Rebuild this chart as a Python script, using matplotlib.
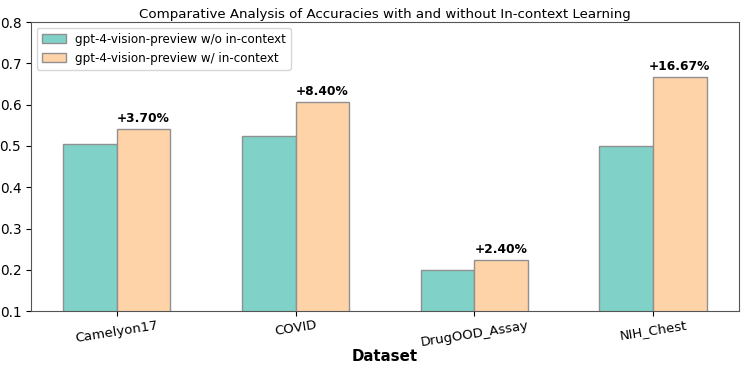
import numpy as np
import matplotlib
matplotlib.use('Agg')
import matplotlib.pyplot as plt

datasets = ['Camelyon17', 'COVID', 'DrugOOD_Assay', 'NIH_Chest']
acc_without = [0.504, 0.523, 0.200, 0.500]
acc_with = [0.541, 0.607, 0.224, 0.6667]
gains = ['+3.70%', '+8.40%', '+2.40%', '+16.67%']


def main():
    x = np.arange(len(datasets))
    width = 0.3

    fig, ax = plt.subplots(figsize=(7.47, 3.74), dpi=100)
    ax.bar(x - width / 2, acc_without, width, color='#80d1c8', edgecolor='#909090',
           label='gpt-4-vision-preview w/o in-context')
    bars = ax.bar(x + width / 2, acc_with, width, color='#ffd3a8', edgecolor='#909090',
                  label='gpt-4-vision-preview w/ in-context')

    # gain labels above the in-context bars
    for b, g in zip(bars, gains):
        ax.text(b.get_x() + b.get_width() / 2, b.get_height() + 0.01, g,
                ha='center', va='bottom', fontsize=8.8, fontweight='bold')

    ax.set_ylim(0.1, 0.8)
    ax.set_xticks(x)
    ax.set_xticklabels(datasets, rotation=9, fontsize=9.5)
    ax.tick_params(axis='x', pad=2)
    ax.tick_params(axis='y', labelsize=9.8)
    ax.set_xlabel('Dataset', fontsize=10.8, fontweight='bold', labelpad=0)
    ax.set_title('Comparative Analysis of Accuracies with and without In-context Learning',
                 fontsize=9.6, pad=3)
    ax.legend(loc='upper left', fontsize=8.6)
    for s in ax.spines.values():
        s.set_color('#555555')
    plt.subplots_adjust(left=0.0415, right=0.989, top=0.941, bottom=0.168)
    plt.savefig('out.png')


if __name__ == '__main__':
    main()
